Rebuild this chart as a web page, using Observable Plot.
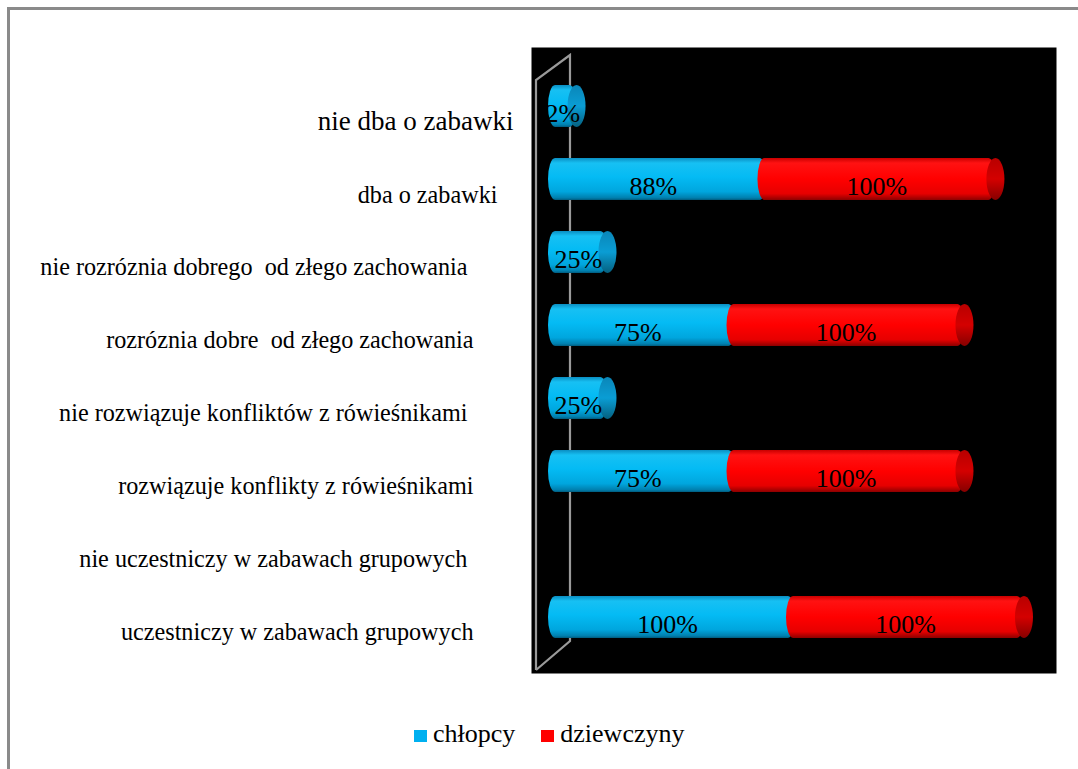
<!DOCTYPE html>
<html>
<head>
<meta charset="utf-8">
<script src="https://cdn.jsdelivr.net/npm/d3@7"></script>
<script src="https://cdn.jsdelivr.net/npm/@observablehq/plot@0.6"></script>
<style>
  html, body { margin: 0; padding: 0; background: #fff; }
  #page { position: relative; width: 1078px; height: 769px; overflow: hidden; background: #fff; font-family: "Liberation Serif", "Times New Roman", serif; }
  #border { position: absolute; left: 7px; top: 7px; width: 3000px; height: 3000px; border-top: 3px solid #8a8a8a; border-left: 3px solid #8a8a8a; box-sizing: border-box; }
  #chart { position: absolute; left: 0; top: 0; }
  #chart svg text { white-space: pre; }
  #legend { position: absolute; left: 414px; top: 719px; display: flex; align-items: center; font-size: 26px; color: #000; line-height: 30px; }
  .sw { display: inline-block; width: 13px; height: 12px; margin-right: 6px; margin-top: 4px; }
</style>
</head>
<body>
<div id="page">
  <div id="border"></div>
  <div id="chart"></div>
  <div id="legend"></div>
</div>
<script>
// ---- data ----
const categories = [
  "nie dba o zabawki",
  "dba o zabawki ",
  "nie rozróznia dobrego  od złego zachowania ",
  "rozróznia dobre  od złego zachowania",
  "nie rozwiązuje konfliktów z rówieśnikami ",
  "rozwiązuje konflikty z rówieśnikami",
  "nie uczestniczy w zabawach grupowych ",
  "uczestniczy w zabawach grupowych"
];
const series = ["chłopcy", "dziewczyny"];
const boys  = [12, 88, 25, 75, 25, 75, 0, 100];
const girls = [0, 100, 0, 100, 0, 100, 0, 100];
const boyLabels  = ["2%", "88%", "25%", "75%", "25%", "75%", "", "100%"];
const girlLabels = ["", "100%", "", "100%", "", "100%", "", "100%"];
const seriesColors = ["#00B0F0", "#FF0000"];

// ---- build segments ----
const segments = [];
categories.forEach((c, i) => {
  if (boys[i] > 0) segments.push({cat: c, s: series[0], x1: 0, x2: boys[i], label: boyLabels[i], last: girls[i] === 0});
  if (girls[i] > 0) segments.push({cat: c, s: series[1], x1: boys[i], x2: boys[i] + girls[i], label: girlLabels[i], last: true});
});
const blueSegs = segments.filter(d => d.s === series[0]);
const blueUnder = blueSegs.filter(d => !d.last);
const blueEnd = blueSegs.filter(d => d.last);
const redSegs = segments.filter(d => d.s === series[1]);
const labelRows = categories.map((c, i) => ({cat: c, i}));

const font = "Liberation Serif, Times New Roman, serif";

// 3D back wall (decoration)
function wall(index, scales, values, dim) {
  const x0 = scales.x(0);
  const top = dim.marginTop, bottom = dim.height - dim.marginBottom;
  const fx = x0 - 12, bx = x0 + 22;
  const p = d3.create("svg:path")
    .attr("d", `M${fx},${bottom - 3} L${fx},${top + 33} L${bx},${top + 8} L${bx},${bottom - 32} L${fx},${bottom - 3}`)
    .attr("fill", "none").attr("stroke", "#9a9a9a").attr("stroke-width", 2.2);
  return p.node();
}

const plot = Plot.plot({
  width: 1078,
  height: 700,
  marginLeft: 531,
  marginRight: 22,
  marginTop: 47,
  marginBottom: 27,
  style: {background: "transparent", fontFamily: font},
  x: {domain: [-7.14, 213.45], axis: null},
  y: {domain: categories, range: [66.15, 655.75], paddingInner: 0.43, paddingOuter: 0.215, axis: null},
  marks: [
    Plot.frame({fill: "black", stroke: "none"}),
    wall,
    Plot.barX(blueUnder, {y: "cat", x1: "x1", x2: "x2", insetRight: -9, fill: "url(#gBlue)", rx: 7, ry: 21}),
    Plot.barX(blueEnd, {y: "cat", x1: "x1", x2: "x2", fill: "url(#gBlue)", rx: 7, ry: 21}),
    Plot.barX(blueEnd, {y: "cat", x1: "x2", x2: "x2", insetLeft: -9, insetRight: -9, fill: "url(#cBlue)", rx: 9, ry: 21}),
    Plot.barX(redSegs, {y: "cat", x1: "x1", x2: "x2", fill: "url(#gRed)", rx: 7, ry: 21}),
    Plot.barX(redSegs, {y: "cat", x1: "x2", x2: "x2", insetLeft: -9, insetRight: -9, fill: "url(#cRed)", rx: 9, ry: 21}),
    Plot.text(segments, {y: "cat", x: d => (d.x1 + d.x2) / 2, text: "label", fill: "black", fontSize: 26, dy: 7, fontFamily: font}),
    Plot.text(labelRows.filter(d => d.i === 0), {y: "cat", text: "cat", frameAnchor: "left", textAnchor: "end", dx: -18, dy: 15, fontSize: 27, fill: "black", fontFamily: font}),
    Plot.text(labelRows.filter(d => d.i === 1), {y: "cat", text: "cat", frameAnchor: "left", textAnchor: "end", dx: -28, dy: 16, fontSize: 24.2, fill: "black", fontFamily: font}),
    Plot.text(labelRows.filter(d => d.i > 1), {y: "cat", text: "cat", frameAnchor: "left", textAnchor: "end", dx: -58, dy: 15, fontSize: 24.2, fill: "black", fontFamily: font})
  ]
});

const svg = plot.tagName.toLowerCase() === "svg" ? plot : plot.querySelector("svg");
const defs = `
<defs>
  <linearGradient id="gBlue" x1="0" y1="0" x2="0" y2="1">
    <stop offset="0" stop-color="#0a8ec2"/>
    <stop offset="0.12" stop-color="#17c0f3"/>
    <stop offset="0.45" stop-color="#04bbf4"/>
    <stop offset="0.8" stop-color="#00a6de"/>
    <stop offset="0.95" stop-color="#007fae"/>
    <stop offset="1" stop-color="#005a7c"/>
  </linearGradient>
  <linearGradient id="cBlue" x1="0" y1="0" x2="0" y2="1">
    <stop offset="0" stop-color="#0a86b8"/>
    <stop offset="0.5" stop-color="#0a9dd4"/>
    <stop offset="1" stop-color="#05607f"/>
  </linearGradient>
  <linearGradient id="gRed" x1="0" y1="0" x2="0" y2="1">
    <stop offset="0" stop-color="#c80000"/>
    <stop offset="0.12" stop-color="#ff1212"/>
    <stop offset="0.5" stop-color="#ff0000"/>
    <stop offset="0.85" stop-color="#e60000"/>
    <stop offset="1" stop-color="#8c0000"/>
  </linearGradient>
  <linearGradient id="cRed" x1="0" y1="0" x2="0" y2="1">
    <stop offset="0" stop-color="#b80000"/>
    <stop offset="0.5" stop-color="#d40000"/>
    <stop offset="1" stop-color="#860000"/>
  </linearGradient>
</defs>`;
svg.insertAdjacentHTML("afterbegin", defs);
document.getElementById("chart").appendChild(plot);

// legend
const legend = document.getElementById("legend");
series.forEach((s, i) => {
  const item = document.createElement("div");
  item.style.display = "flex";
  item.style.alignItems = "center";
  if (i > 0) item.style.marginLeft = "26px";
  const sw = document.createElement("span");
  sw.className = "sw";
  sw.style.background = seriesColors[i];
  const t = document.createElement("span");
  t.textContent = s;
  item.appendChild(sw);
  item.appendChild(t);
  legend.appendChild(item);
});
</script>
</body>
</html>
